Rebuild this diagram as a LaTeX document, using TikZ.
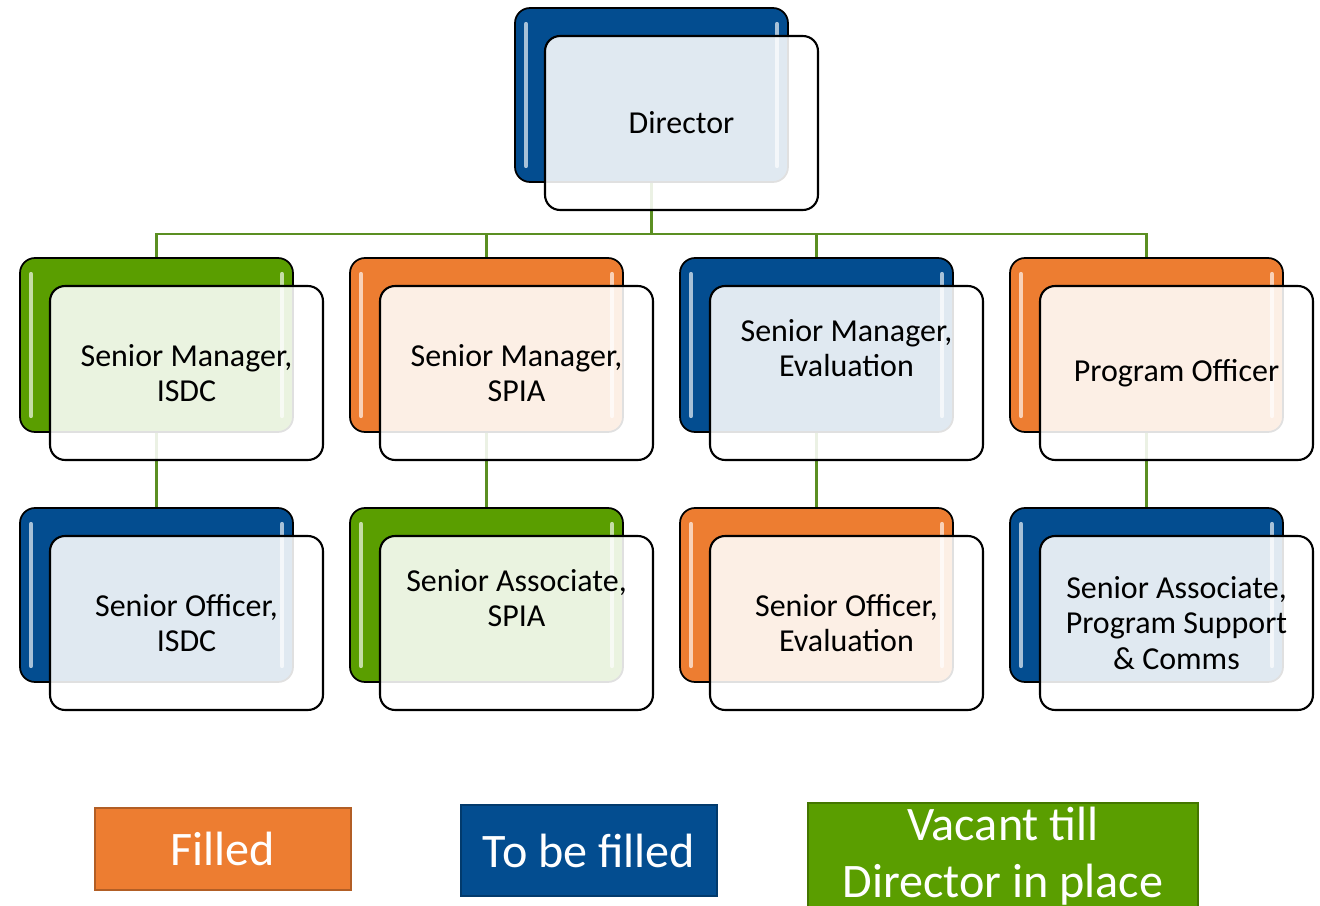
\documentclass[tikz,border=0pt]{standalone}
\usepackage{fontspec}
\setmainfont{Carlito}
\usetikzlibrary{calc,backgrounds}

\definecolor{filled}{HTML}{ED7D31}
\definecolor{tobe}{HTML}{034D90}
\definecolor{vacant}{HTML}{5A9E00}
\definecolor{linkgreen}{HTML}{5B8F22}

\tikzset{
  backcard/.style={draw=black,line width=1pt,rounded corners=0.3cm,
    minimum width=5.46cm,minimum height=3.48cm,inner sep=0pt,outer sep=0pt},
  frontcard/.style={backcard,line width=1.2pt,fill=white,fill opacity=0.88},
  cardtext/.style={align=center,inner sep=0pt,font=\fontsize{18.2}{20}\selectfont},
  gloss/.style={line width=2.4pt,line cap=round,draw=#1!35!white},
  link/.style={linkgreen,line width=1.4pt},
  keybox/.style={draw,line width=1.2pt,text=white,align=center,inner sep=0pt,
    font=\fontsize{27.4}{32.4}\selectfont}
}

% one post: coloured card behind, pale card in front, text on top
\newcommand{\post}[5]{%
  \node[backcard,fill=#3] (#1) at (#2) {};%
  \draw[gloss=#3] ($(#1.north west)+(11,16)$) -- ($(#1.south west)+(11,-16)$);%
  \draw[gloss=#3] ($(#1.north east)+(-11,16)$) -- ($(#1.south east)+(-11,-16)$);%
  \node[frontcard] (#1f) at ($(#1)+(30,28)$) {};%
  \node[cardtext] (#1t) at ($(#1f)+(0,#5)$) {#4};%
}

\begin{document}
\begin{tikzpicture}[x=0.02cm,y=-0.02cm]
  \useasboundingbox (0,0) rectangle (1320,906);

  \post{dir}{651.5,95}{tobe}{Director}{0}% top

  \post{smA}{156.5,345}{vacant}{Senior Manager,\\ISDC}{0}% row 1
  \post{smB}{486.5,345}{filled}{Senior Manager,\\SPIA}{0}
  \post{smC}{816.5,345}{tobe}{Senior Manager,\\Evaluation}{-25}
  \post{po}{1146.5,345}{filled}{Program Officer}{0}

  \post{soA}{156.5,595}{tobe}{Senior Officer,\\ISDC}{0}% row 2
  \post{saB}{486.5,595}{vacant}{Senior Associate,\\SPIA}{-25}
  \post{soC}{816.5,595}{filled}{Senior Officer,\\Evaluation}{0}
  \post{saD}{1146.5,595}{tobe}{Senior Associate,\\Program Support\\\& Comms}{0}

  % reporting lines
  \begin{pgfonlayer}{background}
    \coordinate (bus) at (651.5,234);
    \draw[link] (dir.south) -- (bus);
    \foreach \n in {smA,smB,smC,po}
      \draw[link] (bus) -| (\n.north);
    \foreach \a/\b in {smA/soA,smB/saB,smC/soC,po/saD}
      \draw[link] (\a.south) -- (\b.north);
  \end{pgfonlayer}

  % key
  \node[keybox,fill=filled,draw=filled!75!black,minimum width=5.12cm,minimum height=1.64cm]
    (kf) at (223,849) {Filled};
  \node[keybox,fill=tobe,draw=tobe!75!black,minimum width=5.12cm,minimum height=1.82cm]
    (kt) at (589,850.5) {To be filled};
  \node[keybox,fill=vacant,draw=vacant!75!black,minimum width=7.8cm,minimum height=2.14cm]
    (kv) at (1003,856.5) {Vacant till\\Director in place};
\end{tikzpicture}
\end{document}
